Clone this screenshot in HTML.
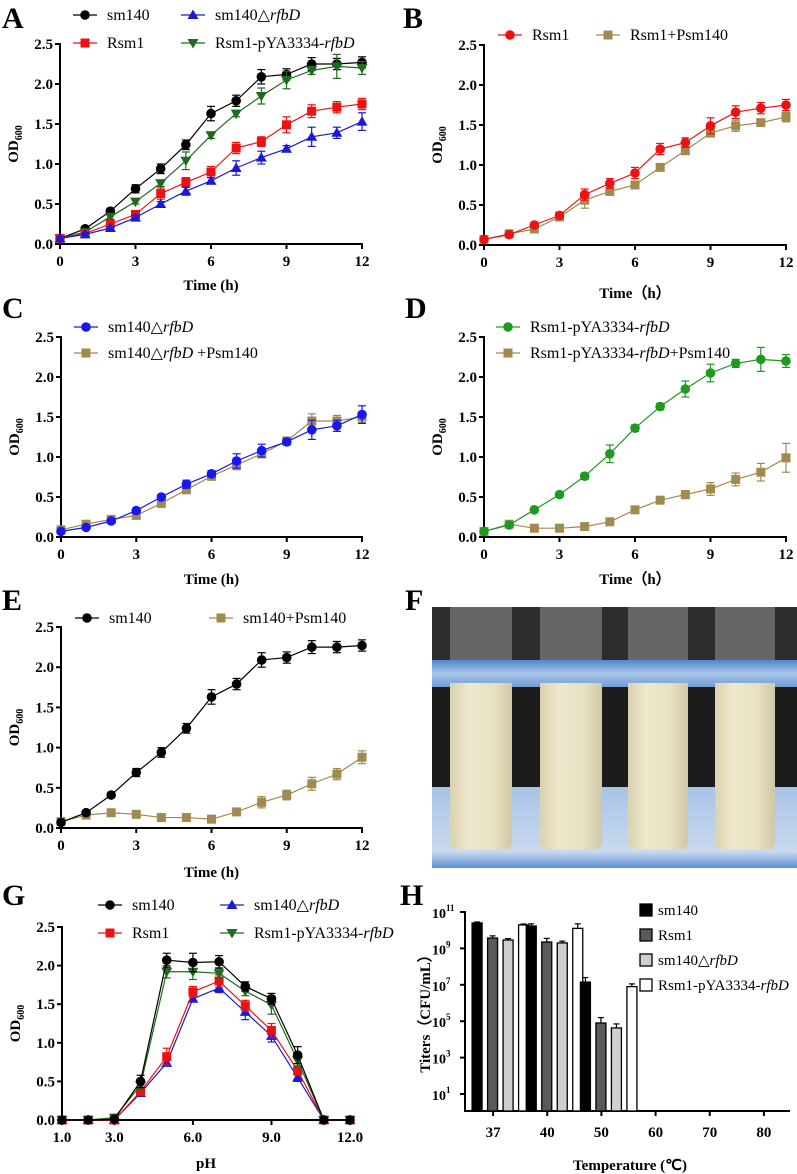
<!DOCTYPE html>
<html><head><meta charset="utf-8">
<style>
html,body{margin:0;padding:0;background:#fff;}
svg{display:block;font-family:"Liberation Serif",serif;}
.tk{font-weight:bold;font-size:15px;}
.tkh{font-weight:bold;font-size:14px;}
.lg{font-size:16px;}
.lgh{font-size:15px;}
.pl{font-weight:bold;font-size:30px;}
.at{font-weight:bold;font-size:15px;}
</style></head>
<body>
<svg id="fig" width="797" height="1174" viewBox="0 0 797 1174">
<defs>
<linearGradient id="liq" x1="0" x2="1" y1="0" y2="0">
<stop offset="0" stop-color="#d9d2b0"/><stop offset="0.3" stop-color="#eee8cc"/><stop offset="0.7" stop-color="#e8e2c4"/><stop offset="1" stop-color="#cfc8a6"/></linearGradient>
<linearGradient id="blueband" x1="0" x2="0" y1="0" y2="1">
<stop offset="0" stop-color="#4f86cf"/><stop offset="0.5" stop-color="#a9c7ea"/><stop offset="1" stop-color="#6f9bd6"/></linearGradient>
<linearGradient id="lowblue" x1="0" x2="0" y1="0" y2="1">
<stop offset="0" stop-color="#a8c3e6"/><stop offset="0.8" stop-color="#c9d9ef"/><stop offset="1" stop-color="#5d8fd3"/></linearGradient>
</defs>
<g>
<rect x="432" y="607" width="365" height="261" fill="#2c2c2c"/>
<rect x="432" y="687" width="365" height="100" fill="#1c1c1c"/>
<rect x="432" y="787" width="365" height="81" fill="url(#lowblue)"/>
<rect x="450" y="607" width="62" height="60" fill="#8e8e8e" opacity="0.6"/>
<rect x="540" y="607" width="62" height="60" fill="#8e8e8e" opacity="0.6"/>
<rect x="628" y="607" width="60" height="60" fill="#8e8e8e" opacity="0.6"/>
<rect x="715" y="607" width="60" height="60" fill="#8e8e8e" opacity="0.6"/>
<rect x="432" y="660" width="365" height="27" fill="url(#blueband)"/>
<path d="M450 683 H512 V840 Q512 850 502 850 H460 Q450 850 450 840 Z" fill="url(#liq)"/>
<path d="M540 683 H602 V840 Q602 850 592 850 H550 Q540 850 540 840 Z" fill="url(#liq)"/>
<path d="M628 683 H688 V840 Q688 850 678 850 H638 Q628 850 628 840 Z" fill="url(#liq)"/>
<path d="M715 683 H775 V840 Q775 850 765 850 H725 Q715 850 715 840 Z" fill="url(#liq)"/>
</g>
<text class="pl" x="2" y="28">A</text>
<text class="pl" x="403" y="28">B</text>
<text class="pl" x="2" y="318">C</text>
<text class="pl" x="405" y="318">D</text>
<text class="pl" x="2" y="610">E</text>
<text class="pl" x="405" y="610">F</text>
<text class="pl" x="2" y="905">G</text>
<text class="pl" x="400" y="905">H</text>
</svg>
<script>
const hours = [0,1,2,3,4,5,6,7,8,9,10,11,12];
const timeTicks = [0,3,6,9,12];
const odTicks = [0,0.5,1.0,1.5,2.0,2.5];
const odTickLabels = ["0.0","0.5","1.0","1.5","2.0","2.5"];
const sm140 = [0.07,0.19,0.41,0.69,0.94,1.24,1.63,1.79,2.09,2.12,2.25,2.25,2.27];
const sm140Err = [0.02,0.03,0.03,0.05,0.06,0.06,0.09,0.07,0.09,0.07,0.08,0.07,0.07];
const rsm1 = [0.07,0.13,0.25,0.37,0.63,0.77,0.90,1.20,1.28,1.49,1.66,1.71,1.75];
const rsm1Err = [0.02,0.02,0.03,0.04,0.07,0.06,0.07,0.07,0.06,0.10,0.08,0.07,0.07];
const delta = [0.07,0.12,0.20,0.33,0.50,0.66,0.79,0.95,1.08,1.19,1.34,1.39,1.53];
const deltaErr = [0.02,0.02,0.02,0.03,0.03,0.05,0.04,0.09,0.08,0.04,0.12,0.07,0.11];
const comp = [0.07,0.15,0.34,0.53,0.76,1.04,1.36,1.63,1.85,2.05,2.17,2.22,2.20];
const compErr = [0.02,0.02,0.03,0.03,0.04,0.11,0.04,0.04,0.10,0.11,0.05,0.15,0.08];
const rsm1P = [0.07,0.14,0.20,0.35,0.56,0.67,0.75,0.97,1.18,1.40,1.49,1.53,1.60];
const rsm1PErr = [0.02,0.02,0.03,0.03,0.10,0.04,0.04,0.03,0.05,0.05,0.07,0.03,0.06];
const deltaP = [0.09,0.16,0.22,0.27,0.42,0.59,0.76,0.90,1.04,1.20,1.45,1.45,1.50];
const deltaPErr = [0.02,0.02,0.03,0.03,0.03,0.04,0.05,0.06,0.05,0.04,0.09,0.07,0.07];
const compP = [0.07,0.16,0.11,0.11,0.13,0.19,0.34,0.46,0.53,0.60,0.72,0.81,0.99];
const compPErr = [0.02,0.03,0.03,0.03,0.03,0.03,0.03,0.03,0.05,0.08,0.08,0.11,0.18];
const sm140P = [0.08,0.16,0.19,0.17,0.13,0.13,0.11,0.20,0.32,0.41,0.55,0.67,0.88];
const sm140PErr = [0.02,0.03,0.03,0.03,0.03,0.03,0.03,0.03,0.07,0.06,0.08,0.07,0.08];
const phVals = [1,2,3,4,5,6,7,8,9,10,11,12];
const phTicks = [1,3,6,9,12];
const phTickLabels = ["1.0","3.0","6.0","9.0","12.0"];
const phSm140 = [0,0,0.01,0.50,2.07,2.04,2.05,1.73,1.57,0.84,0,0];
const phSm140Err = [0,0,0.02,0.08,0.09,0.12,0.08,0.06,0.07,0.11,0,0];
const phRsm1 = [0,0,0,0.37,0.82,1.66,1.80,1.48,1.16,0.64,0,0];
const phRsm1Err = [0,0,0,0.04,0.11,0.07,0.08,0.07,0.09,0.06,0,0];
const phDelta = [0,0,0,0.35,0.74,1.57,1.71,1.40,1.09,0.55,0,0];
const phDeltaErr = [0,0,0,0.03,0.04,0.04,0.06,0.10,0.08,0.05,0,0];
const phComp = [0,0,0.03,0.45,1.92,1.92,1.90,1.67,1.49,0.77,0,0];
const phCompErr = [0,0,0.02,0.05,0.08,0.10,0.06,0.06,0.12,0.07,0,0];
const temps = ["37","40","50","60","70","80"];
const tSm140 = [10.40,10.23,7.15,null,null,null];
const tRsm1 = [9.57,9.35,4.90,null,null,null];
const tDelta = [9.46,9.30,4.63,null,null,null];
const tComp = [10.29,10.10,6.90,null,null,null];
const tErrSm140 = [0.05,0.12,0.25,0,0,0];
const tErrRsm1 = [0.12,0.20,0.30,0,0,0];
const tErrDelta = [0.08,0.10,0.22,0,0,0];
const tErrComp = [0.05,0.25,0.15,0,0,0];
const logTicks = [1,3,5,7,9,11];

const NS="http://www.w3.org/2000/svg";
const svg=document.getElementById('fig');
function el(tag,attrs,parent){const e=document.createElementNS(NS,tag);for(const k in attrs)e.setAttribute(k,attrs[k]);(parent||svg).appendChild(e);return e;}
function marker(g,shape,x,y,color){
  let m;
  if(shape==='circle'){m=el('circle',{cx:x,cy:y,r:4.8,fill:color},g);}
  else if(shape==='square'){m=el('rect',{x:x-4.5,y:y-4.5,width:9,height:9,fill:color},g);}
  else if(shape==='tri'){m=el('path',{d:`M${x} ${y-5.5} L${x+5.5} ${y+4} L${x-5.5} ${y+4} Z`,fill:color},g);}
  else {m=el('path',{d:`M${x} ${y+5.5} L${x+5.5} ${y-4} L${x-5.5} ${y-4} Z`,fill:color},g);}
  return m;
}
function lineChart(name,c,series){
  const g=el('g',{});
  
  
  const sx=v=>c.x0+(v-c.xmin)/(c.xmax-c.xmin)*(c.x1-c.x0);
  const sy=v=>c.y0-(v-0)/(2.5)*(c.y0-c.y1);
  const ya=el('line',{x1:c.x0,y1:c.y1-1,x2:c.x0,y2:c.y0+1,stroke:'#000','stroke-width':2},g);
  
  
  const xa=el('line',{x1:c.x0-1,y1:c.y0,x2:c.x1+1,y2:c.y0,stroke:'#000','stroke-width':2},g);
  
  
  odTicks.forEach((t,i)=>{
    el('line',{x1:c.x0-5,x2:c.x0,y1:sy(t),y2:sy(t),stroke:'#000','stroke-width':2},g);
    const tl=el('text',{x:c.x0-7,y:sy(t)+5,'text-anchor':'end',class:'tk'},g);
    tl.textContent=odTickLabels[i];
    
    
  });
  c.xticks.forEach((t,i)=>{
    el('line',{x1:sx(t),x2:sx(t),y1:c.y0,y2:c.y0+5,stroke:'#000','stroke-width':2},g);
    const tl=el('text',{x:sx(t),y:c.y0+22,'text-anchor':'middle',class:'tk'},g);
    tl.textContent=c.xlabels[i];
    
    
  });
  const yt=el('text',{transform:`translate(${c.x0-42},${(c.y0+c.y1)/2}) rotate(-90)`,'text-anchor':'middle',class:'at'},g);
  yt.innerHTML='OD<tspan font-size="10" dy="4">600</tspan>';
  
  
  const xt=el('text',{x:(c.x0+c.x1)/2,y:c.xtitleY,'text-anchor':'middle',class:'at'},g);
  xt.textContent=c.xtitle;
  
  
  series.forEach(s=>{
    const sg=el('g',{},g);
    
    
    const pts=s.vals.map((v,i)=>[sx(s.xs[i]),sy(v)]);
    el('polyline',{points:pts.map(p=>p.join(',')).join(' '),fill:'none',stroke:s.color,'stroke-width':1.2},sg);
    s.vals.forEach((v,i)=>{
      const e=s.err[i];
      if(e>0){
        const x=sx(s.xs[i]);
        el('line',{x1:x,x2:x,y1:sy(v+e),y2:sy(v-e),stroke:s.color,'stroke-width':1.2},sg);
        el('line',{x1:x-4,x2:x+4,y1:sy(v+e),y2:sy(v+e),stroke:s.color,'stroke-width':1.2},sg);
        el('line',{x1:x-4,x2:x+4,y1:sy(v-e),y2:sy(v-e),stroke:s.color,'stroke-width':1.2},sg);
      }
      const m=marker(sg,s.shape,sx(s.xs[i]),sy(v),s.color);
      
      
    });
  });
  return g;
}
function legendEntry(x,y,shape,color,html,name){
  const g=el('g',{});
  
  
  el('line',{x1:x-12,x2:x+12,y1:y,y2:y,stroke:color,'stroke-width':1.3},g);
  marker(g,shape,x,y,color);
  const t=el('text',{x:x+22,y:y+5,class:'lg'},g);
  t.innerHTML=html;
}
const BLK='#000',RED='#ee1111',BLU='#1a1ad6',GRN='#1e6b1e',GRN2='#1e9a1e',TAN='#a08a4e',BLU2='#1717f0';
const dl='sm140△<tspan font-style="italic">rfbD</tspan>';
const cp='Rsm1-pYA3334-<tspan font-style="italic">rfbD</tspan>';
lineChart('chart-a',{x0:60,x1:362,y0:244,y1:44,xmin:0,xmax:12,xticks:timeTicks,xlabels:timeTicks.map(String),xtitle:'Time (h)',xtitleY:290},[
 {id:'sm140',xs:hours,vals:sm140,err:sm140Err,color:BLK,shape:'circle'},
 {id:'rsm1-pyA3334-rfbd',xs:hours,vals:comp,err:compErr,color:GRN,shape:'itri'},
 {id:'rsm1',xs:hours,vals:rsm1,err:rsm1Err,color:RED,shape:'square'},
 {id:'sm140-delta-rfbd',xs:hours,vals:delta,err:deltaErr,color:BLU,shape:'tri'}]);
legendEntry(85,15,'circle',BLK,'sm140','legend-sm140');
legendEntry(193,15,'tri',BLU,dl,'legend-sm140-delta-rfbd');
legendEntry(85,43,'square',RED,'Rsm1','legend-rsm1');
legendEntry(193,43,'itri',GRN,cp,'legend-rsm1-pyA3334-rfbd');
lineChart('chart-b',{x0:484,x1:786,y0:245,y1:45,xmin:0,xmax:12,xticks:timeTicks,xlabels:timeTicks.map(String),xtitle:'Time（h）',xtitleY:298},[
 {id:'rsm1-psm140',xs:hours,vals:rsm1P,err:rsm1PErr,color:TAN,shape:'square'},
 {id:'rsm1',xs:hours,vals:rsm1,err:rsm1Err,color:RED,shape:'circle'}]);
legendEntry(510,35,'circle',RED,'Rsm1','legend-b-rsm1');
legendEntry(608,35,'square',TAN,'Rsm1+Psm140','legend-b-rsm1-psm140');
lineChart('chart-c',{x0:61,x1:362,y0:537,y1:337,xmin:0,xmax:12,xticks:timeTicks,xlabels:timeTicks.map(String),xtitle:'Time (h)',xtitleY:584},[
 {id:'sm140-delta-rfbd-psm140',xs:hours,vals:deltaP,err:deltaPErr,color:TAN,shape:'square'},
 {id:'sm140-delta-rfbd',xs:hours,vals:delta,err:deltaErr,color:BLU2,shape:'circle'}]);
legendEntry(86,327,'circle',BLU2,dl,'legend-c-delta');
legendEntry(86,353,'square',TAN,'sm140△<tspan font-style="italic">rfbD</tspan> +Psm140','legend-c-delta-psm140');
lineChart('chart-d',{x0:484,x1:786,y0:537,y1:337,xmin:0,xmax:12,xticks:timeTicks,xlabels:timeTicks.map(String),xtitle:'Time（h）',xtitleY:584},[
 {id:'comp-psm140',xs:hours,vals:compP,err:compPErr,color:TAN,shape:'square'},
 {id:'comp',xs:hours,vals:comp,err:compErr,color:GRN2,shape:'circle'}]);
legendEntry(508,327,'circle',GRN2,cp,'legend-d-comp');
legendEntry(508,353,'square',TAN,cp+'+Psm140','legend-d-comp-psm140');
lineChart('chart-e',{x0:61,x1:362,y0:828,y1:627,xmin:0,xmax:12,xticks:timeTicks,xlabels:timeTicks.map(String),xtitle:'Time (h)',xtitleY:877},[
 {id:'sm140-psm140',xs:hours,vals:sm140P,err:sm140PErr,color:TAN,shape:'square'},
 {id:'sm140',xs:hours,vals:sm140,err:sm140Err,color:BLK,shape:'circle'}]);
legendEntry(87,618,'circle',BLK,'sm140','legend-e-sm140');
legendEntry(221,618,'square',TAN,'sm140+Psm140','legend-e-sm140-psm140');
lineChart('chart-g',{x0:62,x1:350,y0:1120,y1:927,xmin:1,xmax:12,xticks:phTicks,xlabels:phTickLabels,xtitle:'pH',xtitleY:1168},[
 {id:'ph-delta',xs:phVals,vals:phDelta,err:phDeltaErr,color:BLU,shape:'tri'},
 {id:'ph-rsm1',xs:phVals,vals:phRsm1,err:phRsm1Err,color:RED,shape:'square'},
 {id:'ph-comp',xs:phVals,vals:phComp,err:phCompErr,color:GRN,shape:'itri'},
 {id:'ph-sm140',xs:phVals,vals:phSm140,err:phSm140Err,color:BLK,shape:'circle'}]);
legendEntry(110,905,'circle',BLK,'sm140','legend-g-sm140');
legendEntry(232,905,'tri',BLU,dl,'legend-g-delta');
legendEntry(110,933,'square',RED,'Rsm1','legend-g-rsm1');
legendEntry(232,933,'itri',GRN,cp,'legend-g-comp');
(function(){
  const g=el('g',{});
  
  
  const x0=465,x1=790,y0=1111;
  const sy=v=>1094-(v-1)*18.2;
  const step=(x1-x0)/temps.length;
  const xa=el('line',{x1:x0-1,x2:x1,y1:y0,y2:y0,stroke:'#000','stroke-width':2},g);
  
  
  const ya=el('line',{x1:x0,x2:x0,y1:sy(11)-1,y2:y0,stroke:'#000','stroke-width':2},g);
  
  
  logTicks.forEach(t=>{
    el('line',{x1:x0-5,x2:x0,y1:sy(t),y2:sy(t),stroke:'#000','stroke-width':2},g);
    const tl=el('text',{x:x0-19,y:sy(t)+6,'text-anchor':'end',class:'tkh'},g);
    tl.textContent='10';
    
    
    const sp=el('text',{x:x0-19,y:sy(t)-1,'text-anchor':'start',class:'tkh'},g);
    sp.setAttribute('style','font-size:9px');
    sp.textContent=String(t);
    
    
  });
  const sets=[[tSm140,tErrSm140,'#000'],[tRsm1,tErrRsm1,'#5a5a5a'],[tDelta,tErrDelta,'#cfcfcf'],[tComp,tErrComp,'#fff']];
  temps.forEach((lab,i)=>{
    const gx=x0+step*(i+0.5)+8;
    el('line',{x1:gx-7,x2:gx-7,y1:y0,y2:y0+5,stroke:'#000','stroke-width':2},g);
    const tl=el('text',{x:gx-7,y:1137,'text-anchor':'middle',class:'tk'},g);
    tl.textContent=lab;
    
    
    sets.forEach((s,j)=>{
      const v=s[0][i]; if(v==null) return;
      const bx=gx-28+j*15.5;
      const e=s[1][i];
      el('line',{x1:bx+5,x2:bx+5,y1:sy(v+e),y2:sy(v),stroke:'#000','stroke-width':1.2},g);
      el('line',{x1:bx+2,x2:bx+8,y1:sy(v+e),y2:sy(v+e),stroke:'#000','stroke-width':1.2},g);
      const b=el('rect',{x:bx,y:sy(v),width:10,height:y0-sy(v),fill:s[2],stroke:'#000','stroke-width':1.3},g);
      
      
    });
  });
  const yt=el('text',{transform:'translate(430,1010) rotate(-90)','text-anchor':'middle',class:'at'},g);
  yt.textContent='Titers（CFU/mL）';
  
  
  const xt=el('text',{x:630,y:1170,'text-anchor':'middle',class:'at'},g);
  xt.textContent='Temperature (℃)';
  
  
  const labs=['sm140','Rsm1','sm140△<tspan font-style="italic">rfbD</tspan>',cp];
  labs.forEach((l,j)=>{
    const lg=el('g',{},g);
    
    
    el('rect',{x:640,y:904+j*25,width:12,height:12,fill:sets[j][2],stroke:'#000','stroke-width':1.3},lg);
    const t=el('text',{x:658,y:915+j*25,class:'lgh'},lg);
    t.innerHTML=l;
  });
})();
</script>
</body></html>
